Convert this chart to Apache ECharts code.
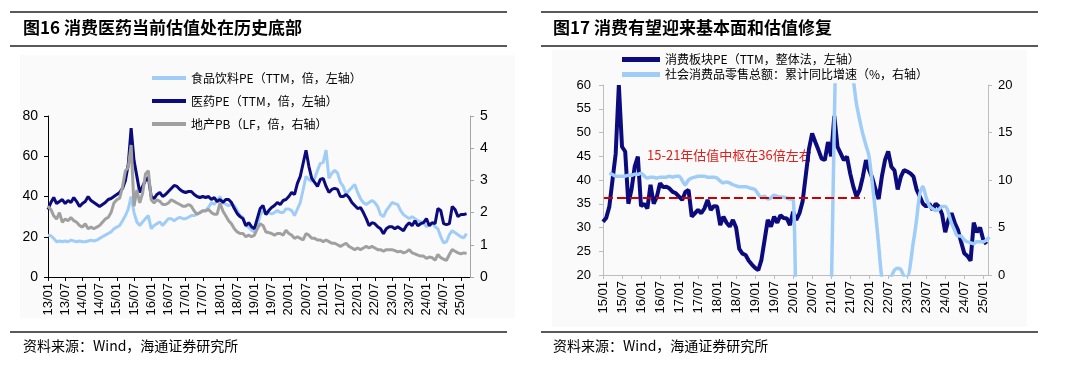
<!DOCTYPE html>
<html><head><meta charset="utf-8">
<script src="https://cdn.jsdelivr.net/npm/echarts@6/dist/echarts.min.js"></script>
<style>html,body{margin:0;padding:0;background:#fff;}#c{width:1080px;height:366px;}</style>
</head><body><div id="c"></div>
<script>
// ---------- Figure 16 (monthly, starting 2013/01) ----------
const leftTicks = ['13/01','13/07','14/01','14/07','15/01','15/07','16/01','16/07','17/01','17/07','18/01','18/07','19/01','19/07','20/01','20/07','21/01','21/07','22/01','22/07','23/01','23/07','24/01','24/07','25/01'];
const foodPE = [
 20.8,20.5,19.2,17.5,17.9,17.5,17.9,17.5,18.3,17.9,17.5,17.9,
 17.5,17.5,17.9,18.3,17.9,18.3,19.2,20,20.8,21.6,22.4,24,
 24.8,25.6,28,30.5,33.8,40,32,27.3,25.6,27.3,29,30.5,
 24,25.6,26.5,27.3,25.6,27.3,29,29,28,29,29.7,29,
 29,29.7,30.5,30.5,31.3,32,33,33,34.6,37,36.2,37.8,
 40,37,36.2,35.4,36.2,35.4,33,30.5,29.7,25.6,24.8,23.2,
 22.4,25.6,30.5,33,31.3,32,31.3,32,33,32,32,33.8,
 33.8,33,30.5,33.8,37,43.5,50,48.4,47.6,49,53,56.5,
 57,63,49,51.6,53,51.6,47,45,41,43,44.5,46,
 42,39,37,36,37,38,37,35,31,30,33,35,
 37,36.5,36,33,31,30,29,30,29,28,27.5,27,
 25,26,27,25,24,20,17,17.5,21,23,22,21,
 20,19.5,21.5];
const pharmaPE = [
 33.5,37,39.5,36.5,37.5,38.5,36.5,38,37,39.5,37.5,35,
 36.5,37.5,40,38,37,36,35,36,37,38.5,39,40,
 41,42,44,48,56,74,58,50,42,45,48,49.5,
 40,39,41,42,40,41,42.5,44,45.5,45,43.5,42.5,
 42,42.5,42.5,41,40,39.5,40,39.5,40,38.5,39.5,37.5,
 38.5,37,38.5,38.5,37,34,31.5,30,29,25.5,27,25,
 24,29,34,35.5,31,33,34.5,35.5,37,36,38,38.5,
 40,42,41,46.5,50,56.5,63,55,49,47,45,48.5,
 49,45,42,43.5,44,43.5,40,40,41,39.5,37,35.5,
 34,34.5,32,29,25.5,27,26.5,25,24,21.5,24,25,
 25,24,25,24,23,25.5,27,25.5,28,25.5,26.5,27,
 29,25.5,27,26.5,34,33,26.5,26,26.5,35,33.5,30,
 31,31,31.5];
const estatePB = [
 2.2,2.1,1.9,1.8,2.0,1.7,1.8,1.75,1.85,1.75,1.7,1.6,
 1.55,1.65,1.5,1.55,1.5,1.55,1.6,1.7,1.8,1.85,2.0,2.3,
 2.4,2.45,2.8,3.3,3.4,4.1,2.2,2.7,2.3,2.6,3.2,3.3,
 2.4,2.3,2.4,2.35,2.25,2.25,2.3,2.4,2.35,2.3,2.25,2.2,
 2.2,2.25,2.2,2.05,1.95,2.0,2.05,2.05,2.1,2.0,1.95,1.95,
 2.3,2.05,1.9,1.75,1.65,1.5,1.4,1.35,1.35,1.25,1.3,1.25,
 1.3,1.5,1.65,1.6,1.4,1.38,1.35,1.3,1.35,1.35,1.3,1.45,
 1.35,1.3,1.2,1.25,1.2,1.15,1.35,1.3,1.2,1.2,1.15,1.15,
 1.1,1.15,1.1,1.05,1.05,1.0,0.95,1.0,1.05,0.95,0.9,0.85,
 0.9,0.85,0.9,0.95,0.9,0.95,0.9,0.85,0.85,0.8,0.85,0.85,
 0.85,0.82,0.78,0.8,0.75,0.78,0.85,0.75,0.72,0.68,0.65,0.65,
 0.58,0.62,0.6,0.52,0.7,0.6,0.55,0.52,0.7,0.85,0.8,0.75,
 0.72,0.75,0.73];

// ---------- Figure 17 (monthly, starting 2015/01) ----------
const rightTicks = ['15/01','15/07','16/01','16/07','17/01','17/07','18/01','18/07','19/01','19/07','20/01','20/07','21/01','21/07','22/01','22/07','23/01','23/07','24/01','24/07','25/01'];
const consumerPE = [
 31.2,32,34.4,40,45.5,60,47,46,35,38,42.8,44.9,
 34.5,35,34,39,35,36.5,39.3,38.5,38.6,38.2,37.5,37.2,
 36.5,35.8,37.5,37.9,32.3,33,33.7,33,34,35.8,33.7,34.5,
 34.4,30.5,32.3,31,30.2,31.6,30,25.5,24.5,24.2,23,22.2,
 21.5,21,23.2,27.4,31.6,30.2,32.3,31,32.6,32,31.9,30.5,
 33.3,31.6,33,35.5,41,46.5,49.8,48,46.3,44.5,44.2,48,
 45,53.5,47,45.6,44.2,44.9,41.4,38.6,36.5,37.9,40.7,44.2,
 42.1,40.4,38,36,40.7,44.2,46,42.8,42,38,40.7,42.1,
 41.8,41.4,40.7,37.9,36.5,35,34.4,35,33.7,35,34.4,32.8,
 29,31.6,33,31,29.5,27,24.6,24,23,31,29,30,
 27.4,26.5];
const retailYears = [2015,2016,2017,2018,2019,2020,2021,2022,2023,2024,2025];
const retailYoY = [ // cumulative YoY, Feb..Dec of each year
 [10.7,10.6,10.4,10.4,10.4,10.4,10.5,10.5,10.6,10.6,10.7],
 [10.2,10.3,10.3,10.2,10.3,10.3,10.3,10.4,10.3,10.4,10.4],
 [9.5,10.0,10.2,10.3,10.4,10.4,10.4,10.3,10.3,10.3,10.2],
 [9.7,9.8,9.7,9.5,9.4,9.3,9.3,9.3,9.2,9.1,9.0],
 [8.2,8.3,8.0,8.1,8.4,8.3,8.2,8.2,8.1,8.0,8.0],
 [-20.5,-19.0,-16.2,-13.5,-11.4,-9.9,-8.6,-7.2,-5.9,-4.8,-3.9],
 [33.8,33.9,29.6,25.7,23.0,20.7,18.1,16.4,14.9,13.7,12.5],
 [6.7,3.3,-0.2,-1.5,-0.7,-0.2,0.5,0.7,0.6,-0.1,-0.2],
 [3.5,5.8,8.5,9.3,8.2,7.3,7.0,6.8,6.9,7.2,7.2],
 [5.5,4.7,4.1,4.1,3.7,3.5,3.4,3.3,3.5,3.5,3.5],
 [4.0]];
const centerPE = 36.3;          // 15-21年估值中枢
const centerFrom = 0.3, centerTo = 82.6; // months since 2015/01

const FONT = '"Liberation Sans","Noto Sans CJK SC",sans-serif';
const CJK = '"Noto Sans CJK SC","Liberation Sans",sans-serif';

const foodData = foodPE.map((v,i)=>[i,v]);
const pharmaData = pharmaPE.map((v,i)=>[i,v]);
const pbData = estatePB.map((v,i)=>[i,v]);
const consData = consumerPE.map((v,i)=>[i,v]);
const retailData = [];
retailYears.forEach((y,k)=>retailYoY[k].forEach((v,j)=>{
  const m = j+2; // month number (month-end)
  retailData.push([(y-2015)*12 + m - 0.05, v]);
}));

const darkBlue = '#0b0b7d', lightBlue = '#9fcdf8', grey = '#a0a0a0';

const chart = echarts.init(document.getElementById('c'), null, {renderer:'canvas'});
const lbl = {fontFamily: FONT, color:'#000', fontSize: 13};

chart.setOption({
  animation:false,
  backgroundColor:'#fff',
  grid:[
    {left:48, right:610, top:116, bottom:89},
    {left:603, right:92, top:85, bottom:91}
  ],
  xAxis:[
    {gridIndex:0, type:'value', min:0, max:147.2, interval:6,
     axisLine:{lineStyle:{color:'#000', width:1}},
     axisTick:{show:true, length:4, lineStyle:{color:'#000'}},
     splitLine:{show:false},
     axisLabel:{...lbl, rotate:90, margin:6, showMaxLabel:false,
       formatter:v=> (v%6===0 && leftTicks[v/6]) ? leftTicks[v/6] : ''}},
    {gridIndex:1, type:'value', min:0, max:121.5, interval:6,
     axisLine:{lineStyle:{color:'#bdbdbd', width:1}},
     axisTick:{show:true, length:4, lineStyle:{color:'#bdbdbd'}},
     splitLine:{show:false},
     axisLabel:{...lbl, rotate:90, margin:6, showMaxLabel:false,
       formatter:v=> (v%6===0 && rightTicks[v/6]) ? rightTicks[v/6] : ''}}
  ],
  yAxis:[
    {gridIndex:0, type:'value', min:0, max:80, interval:20, position:'left',
     axisLine:{show:true, lineStyle:{color:'#000'}},
     axisTick:{show:true, length:4, lineStyle:{color:'#000'}},
     splitLine:{show:false}, axisLabel:{...lbl, fontSize:14, margin:10}},
    {gridIndex:0, type:'value', min:0, max:5, interval:1, position:'right',
     axisLine:{show:true, lineStyle:{color:'#a6a6a6'}},
     axisTick:{show:true, length:4, lineStyle:{color:'#a6a6a6'}},
     splitLine:{show:false}, axisLabel:{...lbl, fontSize:14, margin:10}},
    {gridIndex:1, type:'value', min:20, max:60, interval:5, position:'left',
     axisLine:{show:true, lineStyle:{color:'#bdbdbd'}},
     axisTick:{show:true, length:4, lineStyle:{color:'#bdbdbd'}},
     splitLine:{show:false}, axisLabel:{...lbl, fontSize:13, margin:12}},
    {gridIndex:1, type:'value', min:0, max:20, interval:5, position:'right',
     axisLine:{show:true, lineStyle:{color:'#bdbdbd'}},
     axisTick:{show:true, length:4, lineStyle:{color:'#bdbdbd'}},
     splitLine:{show:false}, axisLabel:{...lbl, fontSize:13, margin:10}}
  ],
  legend:[
    {data:['食品饮料PE（TTM，倍，左轴）','医药PE（TTM，倍，左轴）','地产PB（LF，倍，右轴）'],
     orient:'vertical', left:152, top:71, padding:0, itemWidth:34, itemHeight:4, itemGap:9, icon:'rect',
     textStyle:{fontFamily:CJK, fontSize:12, color:'#000', lineHeight:14}},
    {data:['消费板块PE（TTM，整体法，左轴）','社会消费品零售总额：累计同比增速（%，右轴）'],
     orient:'vertical', left:622, top:52, padding:0, itemWidth:38, itemHeight:5, itemGap:0, icon:'rect',
     textStyle:{fontFamily:CJK, fontSize:12, color:'#000', lineHeight:15}}
  ],
  series:[
    {name:'食品饮料PE（TTM，倍，左轴）', type:'line', xAxisIndex:0, yAxisIndex:0, data:foodData,
     showSymbol:false, lineStyle:{color:lightBlue, width:3}, itemStyle:{color:lightBlue}},
    {name:'医药PE（TTM，倍，左轴）', type:'line', xAxisIndex:0, yAxisIndex:0, data:pharmaData,
     showSymbol:false, lineStyle:{color:darkBlue, width:3}, itemStyle:{color:darkBlue}},
    {name:'地产PB（LF，倍，右轴）', type:'line', xAxisIndex:0, yAxisIndex:1, data:pbData,
     showSymbol:false, lineStyle:{color:grey, width:3}, itemStyle:{color:grey}},
    {name:'消费板块PE（TTM，整体法，左轴）', type:'line', xAxisIndex:1, yAxisIndex:2, data:consData,
     showSymbol:false, lineStyle:{color:darkBlue, width:4}, itemStyle:{color:darkBlue},
     markLine:{silent:true, symbol:'none', label:{show:false},
       lineStyle:{color:'#cc0000', type:[9,4], width:2},
       data:[[{coord:[centerFrom, centerPE]},{coord:[centerTo, centerPE]}]]}},
    {name:'社会消费品零售总额：累计同比增速（%，右轴）', type:'line', xAxisIndex:1, yAxisIndex:3, data:retailData,
     showSymbol:false, smooth:0.3, lineStyle:{color:lightBlue, width:3.5}, itemStyle:{color:lightBlue}}
  ],
  graphic:[
    {type:'rect', z:-10, shape:{x:20,y:55,width:495,height:263}, style:{fill:'#fafafa'}},
    {type:'rect', z:-10, shape:{x:552,y:50,width:475,height:277}, style:{fill:'#fafafa'}},
    {type:'line', shape:{x1:10,y1:12,x2:507,y2:12}, style:{stroke:'#222', lineWidth:1.5}},
    {type:'line', shape:{x1:10,y1:46,x2:507,y2:46}, style:{stroke:'#222', lineWidth:1.5}},
    {type:'line', shape:{x1:10,y1:332,x2:507,y2:332}, style:{stroke:'#222', lineWidth:1.5}},
    {type:'line', shape:{x1:541,y1:12,x2:1038,y2:12}, style:{stroke:'#222', lineWidth:1.5}},
    {type:'line', shape:{x1:541,y1:46,x2:1038,y2:46}, style:{stroke:'#222', lineWidth:1.5}},
    {type:'line', shape:{x1:541,y1:332,x2:1038,y2:332}, style:{stroke:'#222', lineWidth:1.5}},
    {type:'text', left:23, top:19, style:{text:'图16 消费医药当前估值处在历史底部', font:'bold 17px '+CJK, fill:'#000'}},
    {type:'text', left:553, top:19, style:{text:'图17 消费有望迎来基本面和估值修复', font:'bold 17px '+CJK, fill:'#000'}},
    {type:'text', left:23, top:339, style:{text:'资料来源：Wind，海通证券研究所', font:'14px '+CJK, fill:'#000'}},
    {type:'text', left:553, top:339, style:{text:'资料来源：Wind，海通证券研究所', font:'14px '+CJK, fill:'#000'}},
    {type:'text', left:647, top:149, style:{text:'15-21年估值中枢在36倍左右', font:'13px '+CJK, fill:'#e0201c'}}
  ]
});
</script></body></html>
